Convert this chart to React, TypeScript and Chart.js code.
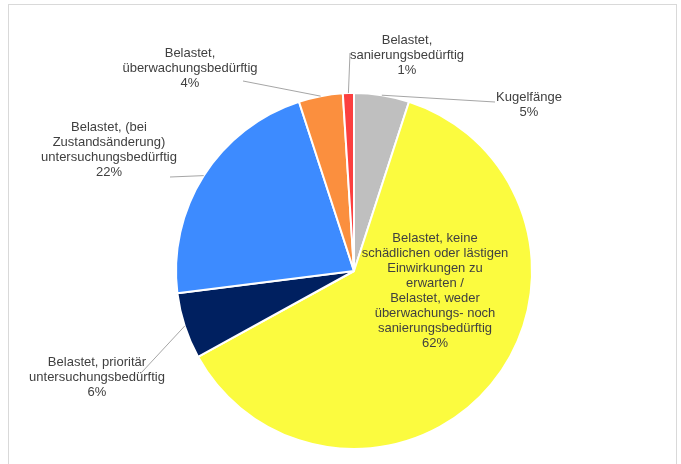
import React, { useEffect, useRef } from "react";
import { Chart, registerables } from "chart.js";

Chart.register(...registerables);

const categories: string[][] = [
  ["Kugelfänge"],
  [
    "Belastet, keine",
    "schädlichen oder lästigen",
    "Einwirkungen zu",
    "erwarten /",
    "Belastet, weder",
    "überwachungs- noch",
    "sanierungsbedürftig",
  ],
  ["Belastet, prioritär", "untersuchungsbedürftig"],
  ["Belastet, (bei", "Zustandsänderung)", "untersuchungsbedürftig"],
  ["Belastet,", "überwachungsbedürftig"],
  ["Belastet,", "sanierungsbedürftig"],
];
const shares = [5, 62, 6, 22, 4, 1];
const colors = ["#BFBFBF", "#FBFB3F", "#002060", "#3D8BFF", "#FB8F3E", "#FC3F3F"];

// label placement relative to pie centre (text centre of first line, leader end)
const labelPlacement = [
  { dx: 175, dy: -174, lx: 141, ly: -169 },
  { dx: 81, dy: -33, lx: null, ly: null },
  { dx: -257, dy: 91, lx: -212, ly: 101 },
  { dx: -245, dy: -144, lx: -184, ly: -94 },
  { dx: -164, dy: -218, lx: -111, ly: -190 },
  { dx: 53, dy: -231, lx: -4, ly: -218 },
];

const labelPlugin = {
  id: "pieLabels",
  beforeDraw(chart: any) {
    const ctx = chart.ctx;
    ctx.save();
    ctx.fillStyle = "#ffffff";
    ctx.fillRect(0, 0, chart.width, chart.height);
    ctx.strokeStyle = "#d9d9d9";
    ctx.lineWidth = 1;
    ctx.strokeRect(8.5, 4.5, 668, 480);
    ctx.restore();
  },
  afterDatasetsDraw(chart: any) {
    const ctx = chart.ctx;
    const meta = chart.getDatasetMeta(0);
    const total = shares.reduce((a, b) => a + b, 0);
    ctx.save();
    meta.data.forEach((arc: any, i: number) => {
      const { x, y, startAngle, endAngle, outerRadius } = arc.getProps(
        ["x", "y", "startAngle", "endAngle", "outerRadius"],
        true
      );
      const mid = (startAngle + endAngle) / 2;
      const p = labelPlacement[i];
      if (p.lx !== null) {
        ctx.strokeStyle = "#a6a6a6";
        ctx.lineWidth = 1;
        ctx.beginPath();
        ctx.moveTo(x + Math.cos(mid) * outerRadius, y + Math.sin(mid) * outerRadius);
        ctx.lineTo(x + (p.lx as number), y + (p.ly as number));
        ctx.stroke();
      }
      const lines = [...categories[i], Math.round((shares[i] / total) * 100) + "%"];
      ctx.fillStyle = "#404040";
      ctx.font = '13px "Liberation Sans", Arial, sans-serif';
      ctx.textAlign = "center";
      ctx.textBaseline = "middle";
      lines.forEach((t, k) => {
        ctx.fillText(t, x + p.dx, y + p.dy + k * 15);
      });
    });
    ctx.restore();
  },
};

export default function App() {
  const ref = useRef<HTMLCanvasElement | null>(null);
  useEffect(() => {
    if (!ref.current) return;
    const chart = new Chart(ref.current, {
      type: "pie",
      data: {
        labels: categories.map((c) => c.join(" ")),
        datasets: [
          {
            data: shares,
            backgroundColor: colors,
            borderColor: "#ffffff",
            borderWidth: 2,
          },
        ],
      },
      options: {
        animation: false,
        responsive: true,
        maintainAspectRatio: false,
        radius: 178,
        layout: { padding: { left: 27, top: 78, right: 0, bottom: 0 } },
        plugins: {
          legend: { display: false },
          tooltip: { enabled: false },
        },
      } as any,
      plugins: [labelPlugin],
    });
    return () => chart.destroy();
  }, []);
  return (
    <div style={{ position: "fixed", left: 0, top: 0, width: 681, height: 464, background: "#fff" }}>
      <canvas ref={ref} />
    </div>
  );
}
